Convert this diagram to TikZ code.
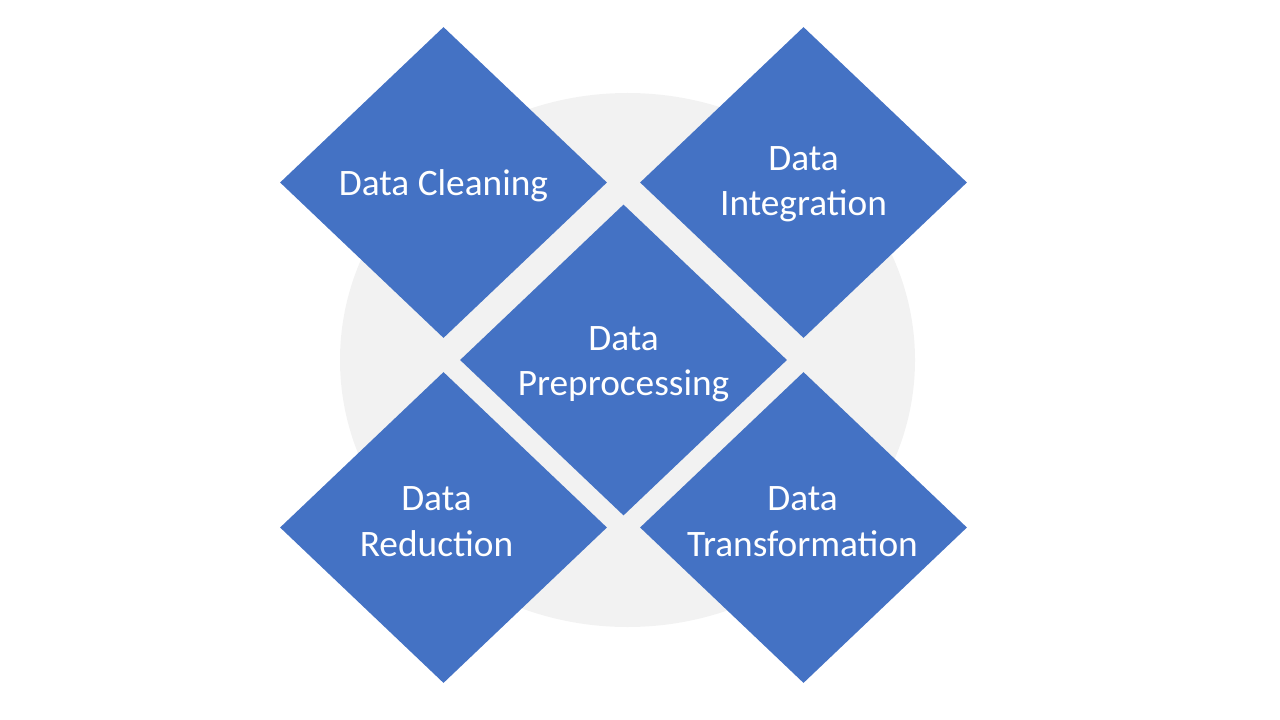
\documentclass[tikz,border=0pt]{standalone}
\usepackage{fontspec}
\setmainfont{Carlito}
\usepackage{tikz}
\usepackage{xcolor}
\usetikzlibrary{shapes.geometric, positioning, calc}
\definecolor{stageblue}{RGB}{68, 114, 196}
\definecolor{backgray}{RGB}{242, 242, 242}

\begin{document}
\begin{tikzpicture}[
    x=0.75pt, y=-0.75pt,
    stage/.style={diamond, fill=stageblue, draw=none, inner sep=0pt, minimum width=245.25pt, minimum height=233.25pt},
    label/.style={text=white, font=\fontsize{28}{34}\selectfont, align=center, inner sep=0pt},
    back/.style={fill=backgray, draw=none}
]
\useasboundingbox (0,0) rectangle (1280,720);

% background
\fill[back] (627.5,360) ellipse [x radius=287.5, y radius=267];

% centre
\node[stage] (pre) at (623.5,360) {};

% corners
\node[stage] (clean) at (443.5,182.5) {};
\node[stage] (integ) at (803.5,182.5) {};
\node[stage] (reduc) at (443.5,527.5) {};
\node[stage] (trans) at (803.5,527.5) {};

% texts
\node[label] (prelbl) at ($(pre)+(0,4)$) {Data\\Preprocessing};
\node[label] (cleanlbl) at ($(clean)+(0,3)$) {Data Cleaning};
\node[label] (integlbl) at ($(integ)+(0,2)$) {Data\\Integration};
\node[label] (reduclbl) at ($(reduc)+(-7,-6)$) {Data\\Reduction};
\node[label] (translbl) at ($(trans)+(-1,-6)$) {Data\\Transformation};

\end{tikzpicture}
\end{document}
